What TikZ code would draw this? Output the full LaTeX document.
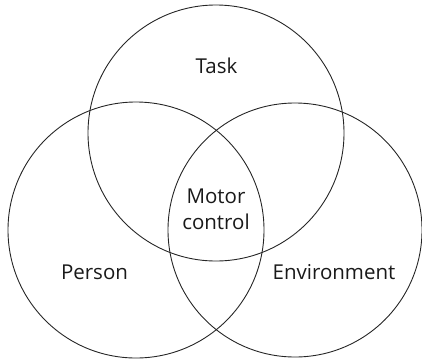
\documentclass[tikz,border=0pt]{standalone}
\usepackage{fontspec}
\setmainfont{Open Sans}
\begin{document}
\begin{tikzpicture}[x=1pt,y=-1pt,
  ring/.style={draw=black!85,line width=0.9pt},
  lbl/.style={anchor=base,font=\fontsize{20.5}{24}\selectfont,text=black!90,inner sep=0pt}]
\useasboundingbox (0,0) rectangle (422,362);
\node[ring,circle,minimum size=256pt,inner sep=0pt] (task) at (216,133) {};
\node[ring,circle,minimum size=256pt,inner sep=0pt] (person) at (136,230) {};
\node[ring,circle,minimum size=254pt,inner sep=0pt] (env) at (295,230) {};
\node[lbl] (tasklbl) at (216.5,73) {Task};
\node[lbl] (motor) at (216,203) {Motor};
\node[lbl] (control) at (216,229.5) {control};
\node[lbl] (personlbl) at (94.5,279) {Person};
\node[lbl] (envlbl) at (334,279) {Environment};
\end{tikzpicture}
\end{document}
